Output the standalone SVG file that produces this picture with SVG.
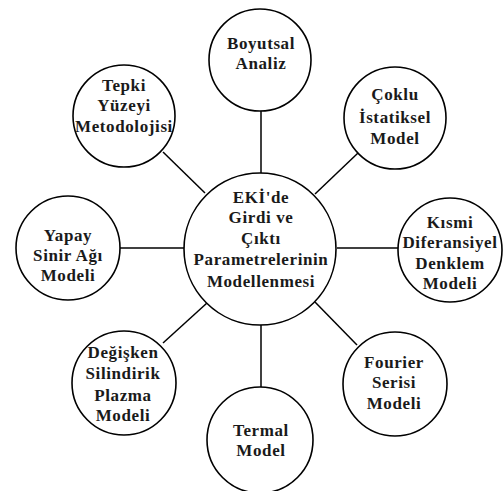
<svg xmlns="http://www.w3.org/2000/svg" width="503" height="491" viewBox="0 0 503 491">
<style>
  .n { fill: #ffffff; stroke: #000000; stroke-width: 1.6; }
  .c line { stroke: #000000; stroke-width: 1.5; }
  text { font-family: "Liberation Serif", "Times New Roman", serif; font-weight: bold; font-size: 17px; letter-spacing: 0.6px; text-anchor: middle; fill: #1a1a1a; }
</style>
<rect width="503" height="491" fill="#ffffff"/>
<g id="connectors" class="c">
  <line x1="261" y1="110" x2="261" y2="173"/>
  <line x1="163" y1="152" x2="205" y2="193"/>
  <line x1="358" y1="153" x2="315" y2="194"/>
  <line x1="120" y1="248" x2="184" y2="248"/>
  <line x1="337" y1="248" x2="398" y2="248"/>
  <line x1="163" y1="343" x2="207" y2="303"/>
  <line x1="357" y1="345" x2="315" y2="302"/>
  <line x1="261" y1="325" x2="261" y2="387"/>
</g>
<g id="center">
  <circle class="n" cx="260" cy="249" r="76"/>
  <text x="261" y="203">EKİ'de</text>
  <text x="261" y="223">Girdi ve</text>
  <text x="261" y="244">Çıktı</text>
  <text x="261" y="265">Parametrelerinin</text>
  <text x="261" y="287">Modellenmesi</text>
</g>
<g id="boyutsal">
  <circle class="n" cx="260" cy="60" r="51"/>
  <text x="261" y="49">Boyutsal</text>
  <text x="261" y="69">Analiz</text>
</g>
<g id="tepki">
  <circle class="n" cx="124" cy="116" r="51"/>
  <text x="124" y="91">Tepki</text>
  <text x="124" y="111">Yüzeyi</text>
  <text x="124" y="132">Metodolojisi</text>
</g>
<g id="coklu">
  <circle class="n" cx="395" cy="118" r="51"/>
  <text x="395" y="100">Çoklu</text>
  <text x="395" y="123">İstatiksel</text>
  <text x="395" y="144">Model</text>
</g>
<g id="yapay">
  <circle class="n" cx="68" cy="248" r="52"/>
  <text x="68" y="241">Yapay</text>
  <text x="68" y="261">Sinir Ağı</text>
  <text x="68" y="281">Modeli</text>
</g>
<g id="kismi">
  <circle class="n" cx="450" cy="250" r="52"/>
  <text x="450" y="228">Kısmi</text>
  <text x="450" y="248">Diferansiyel</text>
  <text x="450" y="269">Denklem</text>
  <text x="450" y="289">Modeli</text>
</g>
<g id="degisken">
  <circle class="n" cx="124" cy="383" r="52"/>
  <text x="123" y="358">Değişken</text>
  <text x="123" y="379">Silindirik</text>
  <text x="123" y="401">Plazma</text>
  <text x="123" y="421">Modeli</text>
</g>
<g id="fourier">
  <circle class="n" cx="395" cy="384" r="52"/>
  <text x="394" y="368">Fourier</text>
  <text x="394" y="388">Serisi</text>
  <text x="394" y="409">Modeli</text>
</g>
<g id="termal">
  <circle class="n" cx="260" cy="440" r="53"/>
  <text x="261" y="436">Termal</text>
  <text x="261" y="456">Model</text>
</g>
</svg>
